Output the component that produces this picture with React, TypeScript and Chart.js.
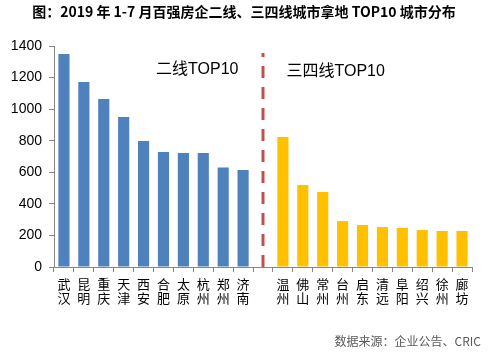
import React, { useEffect, useRef } from "react";
import { Chart, registerables } from "chart.js";

Chart.register(...registerables);

const secondTierCities = ["武汉", "昆明", "重庆", "天津", "西安", "合肥", "太原", "杭州", "郑州", "济南"];
const secondTierValues = [1350, 1172, 1065, 950, 798, 728, 722, 722, 630, 614];
const thirdTierCities = ["温州", "佛山", "常州", "台州", "启东", "清远", "阜阳", "绍兴", "徐州", "廊坊"];
const thirdTierValues = [823, 519, 475, 291, 266, 253, 247, 234, 228, 228];
const yTicks = [0, 200, 400, 600, 800, 1000, 1200, 1400];

const titleText = "图：2019 年 1-7 月百强房企二线、三四线城市拿地 TOP10 城市分布";
const sourceText = "数据来源：企业公告、CRIC";
const groupLabels = ["二线TOP10", "三四线TOP10"];

const BLUE = "#4F81BD";
const YELLOW = "#FFC000";
const AXIS = "#868686";
const FONT = "'Liberation Sans', 'Noto Sans CJK SC', sans-serif";
const CJK = "'Noto Sans CJK SC', 'Liberation Sans', sans-serif";

export default function App() {
  const ref = useRef<HTMLCanvasElement | null>(null);

  useEffect(() => {
    document.body.style.margin = "0";
    const canvas = ref.current;
    if (!canvas) return;
    const labels: any[] = [
      ...secondTierCities.map((c) => c.split("")),
      "",
      ...thirdTierCities.map((c) => c.split("")),
    ];
    const values: (number | null)[] = [...secondTierValues, null, ...thirdTierValues];
    const colors = [
      ...secondTierValues.map(() => BLUE),
      "rgba(0,0,0,0)",
      ...thirdTierValues.map(() => YELLOW),
    ];
    const gapIndex = secondTierCities.length;

    const overlay = {
      id: "overlay",
      afterDatasetsDraw(chart: any) {
        const { ctx, chartArea, scales } = chart;
        const xs = scales.x;
        const ys = scales.y;
        const x = xs.getPixelForValue(gapIndex);
        ctx.save();
        ctx.strokeStyle = "#C0504D";
        ctx.lineWidth = 3;
        ctx.setLineDash([12, 9]);
        ctx.beginPath();
        ctx.moveTo(x, chartArea.bottom);
        ctx.lineTo(x, ys.getPixelForValue(1355));
        ctx.stroke();
        ctx.restore();
        ctx.save();
        ctx.fillStyle = "#000";
        ctx.font = `16px 'Liberation Sans', 'Noto Sans CJK SC', sans-serif`;
        ctx.textAlign = "center";
        ctx.textBaseline = "middle";
        ctx.fillText(groupLabels[0], xs.getPixelForValue(6.7), ys.getPixelForValue(1250));
        ctx.fillText(groupLabels[1], xs.getPixelForValue(13.65), ys.getPixelForValue(1237));
        ctx.restore();
      },
      afterDraw(chart: any) {
        const { ctx, width, height } = chart;
        ctx.save();
        ctx.fillStyle = "#000";
        ctx.font = `bold 14px ${CJK}`;
        ctx.textAlign = "center";
        ctx.textBaseline = "middle";
        ctx.fillText(titleText, width / 2, 12);
        ctx.fillStyle = "#595959";
        ctx.font = `12px ${CJK}`;
        ctx.textAlign = "right";
        ctx.fillText(sourceText, width - 7, height - 13);
        ctx.restore();
      },
    };

    const chart = new Chart(canvas, {
      type: "bar",
      data: {
        labels,
        datasets: [
          {
            data: values,
            backgroundColor: colors,
            categoryPercentage: 1,
            barPercentage: 0.56,
          },
        ],
      },
      options: {
        animation: false,
        responsive: false,
        maintainAspectRatio: false,
        layout: { padding: { top: 46, left: 0, right: 16, bottom: 27 } },
        plugins: {
          legend: { display: false },
          title: { display: false },
          tooltip: { enabled: false },
        },
        scales: {
          x: {
            grid: {
              display: true,
              drawOnChartArea: false,
              drawTicks: true,
              tickLength: 5,
              color: AXIS,
              offset: true,
            },
            border: { display: true, color: AXIS, width: 1 },
            ticks: {
              color: "#000",
              font: { size: 13, family: CJK, lineHeight: 1.1 },
              padding: 5,
              maxRotation: 0,
              autoSkip: false,
            },
            afterFit: (scale: any) => {
              scale.height = 60;
            },
          },
          y: {
            min: 0,
            max: 1400,
            afterBuildTicks: (scale: any) => {
              scale.ticks = yTicks.map((v) => ({ value: v }));
            },
            grid: {
              display: true,
              drawOnChartArea: false,
              drawTicks: true,
              tickLength: 5,
              color: AXIS,
            },
            border: { display: true, color: AXIS, width: 1 },
            ticks: {
              color: "#000",
              font: { size: 14, family: FONT },
              padding: 7,
              callback: (v: any) => String(v),
            },
            afterFit: (scale: any) => {
              scale.width = 54;
            },
          },
        },
      },
      plugins: [overlay],
    });
    return () => chart.destroy();
  }, []);

  return (
    <div style={{ position: "absolute", left: 0, top: 0, width: 488, height: 354 }}>
      <canvas ref={ref} width={488} height={354} style={{ width: 488, height: 354 }} />
    </div>
  );
}
